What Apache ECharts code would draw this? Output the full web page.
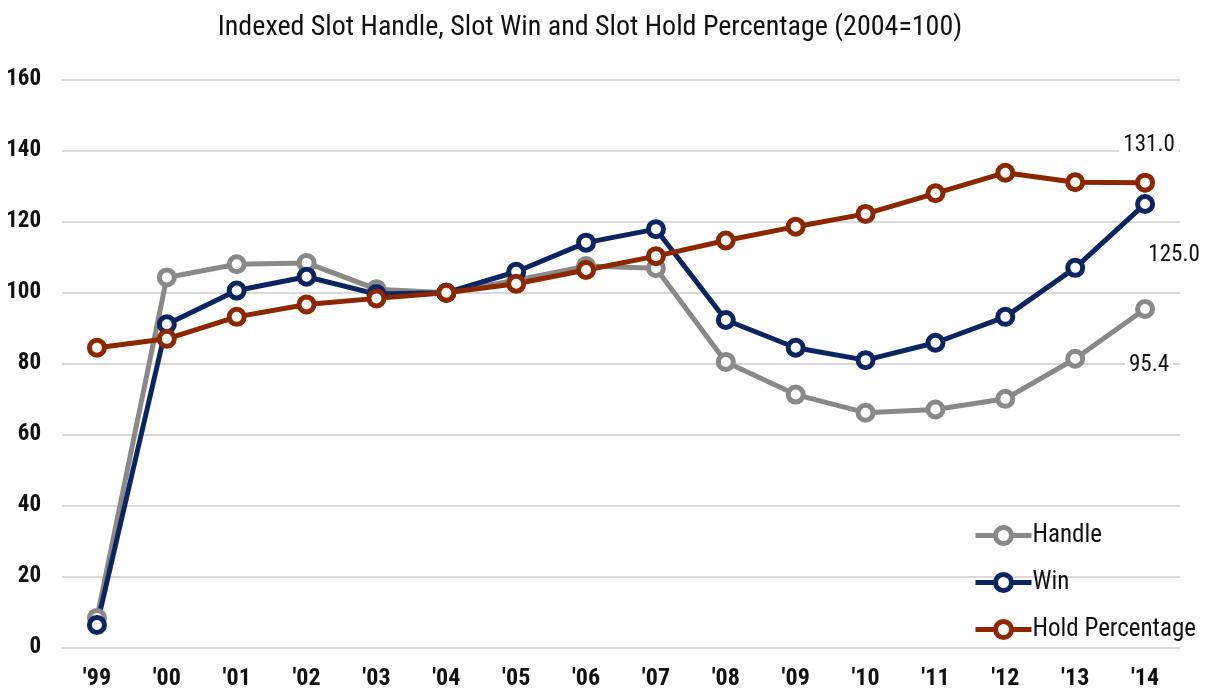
<!DOCTYPE html>
<html>
<head>
<meta charset="utf-8">
<script src="https://cdn.jsdelivr.net/npm/echarts@6/dist/echarts.min.js"></script>
<style>
  html, body { margin: 0; padding: 0; background: #fff; }
  #main { width: 1207px; height: 691px; }
</style>
</head>
<body>
<div id="main"></div>
<script>
var years = ["'99", "'00", "'01", "'02", "'03", "'04", "'05", "'06", "'07", "'08", "'09", "'10", "'11", "'12", "'13", "'14"]
var handle = [8.4, 104.3, 108.0, 108.4, 101.0, 100, 103.5, 107.5, 106.9, 80.5, 71.3, 66.2, 67.1, 70.1, 81.4, 95.4]
var win = [6.4, 91.1, 100.6, 104.5, 99.6, 100, 105.9, 114.1, 117.9, 92.3, 84.5, 81.0, 85.9, 93.2, 107.0, 125.0]
var hold = [84.5, 87.0, 93.2, 96.7, 98.4, 100, 102.5, 106.4, 110.3, 114.7, 118.6, 122.2, 128.0, 133.8, 131.1, 131.0]

var FONT = '"Liberation Sans Narrow", "Arial Narrow", "Roboto Condensed", "DejaVu Sans Condensed", "Liberation Sans", sans-serif'
var chartDom = document.getElementById('main')
var myChart = echarts.init(chartDom)

// last point gets a value label, placed beside the end of the line
function withEndLabel(arr, offset) {
  return arr.map(function (v, i) {
    if (i !== arr.length - 1) return v
    return {
      value: v,
      label: {
        show: true,
        position: 'inside',
        offset: offset,
        formatter: function (p) { return p.value.toFixed(1) },
        color: '#111',
        fontFamily: FONT,
        fontSize: 23,
        backgroundColor: '#fff',
        padding: [2, 4]
      }
    }
  })
}

function lineSeries(name, data, color, offset) {
  return {
    name: name,
    type: 'line',
    data: withEndLabel(data, offset),
    symbol: 'circle',
    symbolSize: 15,
    showAllSymbol: true,
    lineStyle: { color: color, width: 5 },
    itemStyle: { color: '#fff', borderColor: color, borderWidth: 5 },
    emphasis: { disabled: true },
    animation: false
  }
}

var option = {
  textStyle: { fontFamily: FONT },
  title: {
    text: 'Indexed Slot Handle, Slot Win and Slot Hold Percentage (2004=100)',
    left: 585,
    textAlign: 'center',
    top: 9,
    textStyle: { fontFamily: FONT, fontSize: 28, fontWeight: 'normal', color: '#111' }
  },
  legend: {
    orient: 'vertical',
    left: 968,
    top: 518,
    itemWidth: 56,
    itemHeight: 20,
    itemGap: 22,
    itemStyle: { borderWidth: 5 },
    lineStyle: { width: 5 },
    textStyle: { fontFamily: FONT, fontSize: 25, color: '#111', padding: [0, 0, 0, -4] },
    data: ['Handle', 'Win', 'Hold Percentage']
  },
  grid: { left: 62, right: 27, top: 79.7, bottom: 43.3, containLabel: false },
  xAxis: {
    type: 'category',
    data: years,
    boundaryGap: true,
    axisLine: { show: false },
    axisTick: { show: false },
    axisLabel: { fontFamily: FONT, fontSize: 24, fontWeight: 'bold', color: '#111', margin: 19 }
  },
  yAxis: {
    type: 'value',
    min: 0,
    max: 160,
    interval: 20,
    axisLine: { show: false },
    axisTick: { show: false },
    splitLine: { lineStyle: { color: '#d9d9d9', width: 2 } },
    axisLabel: { fontFamily: FONT, fontSize: 23, fontWeight: 'bold', color: '#111', margin: 21 }
  },
  series: [
    lineSeries('Handle', handle, '#898989', [4, 56]),
    lineSeries('Win', win, '#0c2461', [29, 51]),
    lineSeries('Hold Percentage', hold, '#8c2700', [4, -37])
  ]
}
myChart.setOption(option)
</script>
</body>
</html>
